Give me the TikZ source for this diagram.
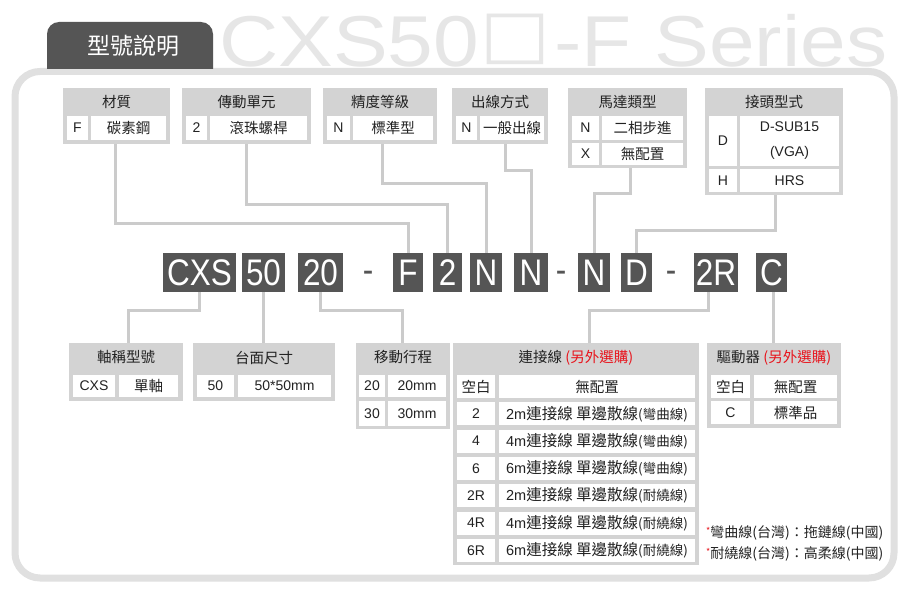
\documentclass[tikz,border=0pt]{standalone}
\usepackage{fontspec}
\setmainfont{Liberation Sans}
\newfontfamily\cjk{Noto Sans CJK TC}
\newfontfamily\djv{DejaVu Sans}
\usetikzlibrary{calc}
\definecolor{framegray}{HTML}{E0E0E0}
\definecolor{wmgray}{HTML}{E6E6E6}
\definecolor{boxgray}{HTML}{D3D3D3}
\definecolor{conngray}{HTML}{CBCBCB}
\definecolor{darkbox}{HTML}{555555}
\definecolor{redtxt}{HTML}{E8141C}
\definecolor{txt}{HTML}{222222}
\tikzset{
  gbox/.style={fill=boxgray, draw=none, inner sep=0pt},
  cellst/.style={fill=white, draw=none, inner sep=0pt, text=txt, font=\fontsize{14}{25}\selectfont, align=center},
  hdr/.style={inner sep=0pt, text=txt, font=\cjk\fontsize{14.5}{16}\selectfont},
  codebox/.style={fill=darkbox, text=white, inner sep=0pt, font=\fontsize{37}{40}\selectfont},
  dashtxt/.style={text=darkbox, inner sep=0pt, font=\fontsize{37}{40}\selectfont},
  conn/.style={draw=conngray, line width=3pt},
  wmark/.style={inner sep=0pt, text=wmgray, font=\fontsize{72}{72}\selectfont, xscale=1.14},
}
% style, name, x1, y1, x2, y2, text
\newcommand\rnode[7]{\node[#1, minimum width={(#5)-(#3)}, minimum height={(#6)-(#4)}] (#2) at ({((#3)+(#5))/2},{((#4)+(#6))/2}) {#7};}
\newcommand\cjkt[1]{{\cjk\fontsize{14.5}{16}\selectfont #1}}
\newcommand\codet[1]{\scalebox{0.85}[1]{#1}}
\newcommand\cabtxt[2]{{\fontsize{14.5}{16}\selectfont #1}{\cjk\fontsize{15.5}{16}\selectfont 連接線 單邊散線{\fontsize{13.5}{14}\selectfont(#2)}}}
\begin{document}
\begin{tikzpicture}[x=1pt,y=-1pt]
\useasboundingbox (0,0) rectangle (914,599);
\fill[white] (0,0) rectangle (914,599);
% watermark
\node[wmark, anchor=base west] (wm1) at (219,67) {CXS50};
\node[inner sep=0pt, text=wmgray, font=\djv\fontsize{66}{66}\selectfont, xscale=1.12] (wm2) at (515,39) {□};
\node[wmark, anchor=base west] (wm3) at (554,67) {-F Series};
% frame
\draw[framegray, line width=7pt, rounded corners=25pt] (15,71.5) rectangle (894,578);
% tab
\fill[darkbox] (47,69) -- (47,34) arc[start angle=180, end angle=270, radius=12] -- (201,22) arc[start angle=270, end angle=360, radius=12] -- (213,69) -- cycle;
\node[text=white, inner sep=0pt, font=\cjk\fontsize{23}{24}\selectfont] (tab) at (133,46) {型號說明};

% ---------- top boxes ----------
\rnode{gbox}{mat}{63}{88}{170}{144}{}
\node[hdr] (matH) at (116.5,102) {材質};
\rnode{cellst}{matk}{67}{116}{88}{140}{F}
\rnode{cellst}{matv}{91}{116}{166}{140}{\cjkt{碳素鋼}}

\rnode{gbox}{drv}{182}{88}{311}{144}{}
\node[hdr] (drvH) at (246.5,102) {傳動單元};
\rnode{cellst}{drvk}{186}{116}{207}{140}{2}
\rnode{cellst}{drvv}{210}{116}{307}{140}{\cjkt{滾珠螺桿}}

\rnode{gbox}{acc}{323}{88}{437}{144}{}
\node[hdr] (accH) at (380,102) {精度等級};
\rnode{cellst}{acck}{327}{116}{350}{140}{N}
\rnode{cellst}{accv}{353}{116}{433}{140}{\cjkt{標準型}}

\rnode{gbox}{outl}{452}{88}{548}{144}{}
\node[hdr] (outlH) at (500,102) {出線方式};
\rnode{cellst}{outlk}{456}{116}{477}{140}{N}
\rnode{cellst}{outlv}{480}{116}{544}{140}{\cjkt{一般出線}}

\rnode{gbox}{mot}{568}{88}{687}{168}{}
\node[hdr] (motH) at (627.5,102) {馬達類型};
\rnode{cellst}{motk1}{572}{116}{599}{140}{N}
\rnode{cellst}{motv1}{602}{116}{683}{140}{\cjkt{二相步進}}
\rnode{cellst}{motk2}{572}{143}{599}{165}{X}
\rnode{cellst}{motv2}{602}{143}{683}{165}{\cjkt{無配置}}

\rnode{gbox}{con}{705}{88}{843}{195}{}
\node[hdr] (conH) at (774,102) {接頭型式};
\rnode{cellst}{conk1}{709}{116}{737}{166}{D}
\rnode{cellst}{conv1}{740}{116}{839}{166}{D-SUB15\\(VGA)}
\rnode{cellst}{conk2}{709}{169}{737}{192}{H}
\rnode{cellst}{conv2}{740}{169}{839}{192}{HRS}

% ---------- code row ----------
\rnode{codebox}{cCXS}{163}{253}{236}{292}{\codet{CXS}}
\rnode{codebox}{c50}{242}{253}{285}{292}{\codet{50}}
\rnode{codebox}{c20}{298}{253}{343}{292}{\codet{20}}
\node[dashtxt] (d1) at (368,277) {\codet{-}};
\rnode{codebox}{cF}{393}{253}{423}{292}{\codet{F}}
\rnode{codebox}{c2}{433}{253}{462}{292}{\codet{2}}
\rnode{codebox}{cN1}{470}{253}{502}{292}{\codet{N}}
\rnode{codebox}{cN2}{514}{253}{548}{292}{\codet{N}}
\node[dashtxt] (d2) at (561,277) {\codet{-}};
\rnode{codebox}{cN3}{578}{253}{610}{292}{\codet{N}}
\rnode{codebox}{cD}{621}{253}{652}{292}{\codet{D}}
\node[dashtxt] (d3) at (671,277) {\codet{-}};
\rnode{codebox}{c2R}{694}{253}{738}{292}{\codet{2R}}
\rnode{codebox}{cC}{756}{253}{787}{292}{\codet{C}}

% ---------- bottom boxes ----------
\rnode{gbox}{axis}{69}{343}{183}{401}{}
\node[hdr] (axisH) at (126,357.5) {軸稱型號};
\rnode{cellst}{axisk}{73}{375}{115}{397}{CXS}
\rnode{cellst}{axisv}{119}{375}{178}{397}{\cjkt{單軸}}

\rnode{gbox}{tbl}{193}{343}{335}{401}{}
\node[hdr] (tblH) at (264,357.5) {台面尺寸};
\rnode{cellst}{tblk}{197}{375}{234}{397}{50}
\rnode{cellst}{tblv}{238}{375}{331}{397}{50*50mm}

\rnode{gbox}{strk}{356}{343}{450}{429}{}
\node[hdr] (strkH) at (403,357.5) {移動行程};
\rnode{cellst}{strkk1}{359}{375}{385}{397}{20}
\rnode{cellst}{strkv1}{388}{375}{446}{397}{20mm}
\rnode{cellst}{strkk2}{359}{401}{385}{426}{30}
\rnode{cellst}{strkv2}{388}{401}{446}{426}{30mm}

\rnode{gbox}{cab}{453}{343}{699}{565}{}
\node[hdr] (cabH) at (576,357.5) {連接線 \textcolor{redtxt}{(另外選購)}};
\rnode{cellst}{cabk0}{457}{375}{495}{398}{\cjkt{空白}}
\rnode{cellst}{cabv0}{499}{375}{695}{398}{\cjkt{無配置}}
\rnode{cellst}{cabk1}{457}{402.3}{495}{425.3}{2}
\rnode{cellst}{cabv1}{499}{402.3}{695}{425.3}{\cabtxt{2m}{彎曲線}}
\rnode{cellst}{cabk2}{457}{429.6}{495}{452.6}{4}
\rnode{cellst}{cabv2}{499}{429.6}{695}{452.6}{\cabtxt{4m}{彎曲線}}
\rnode{cellst}{cabk3}{457}{456.9}{495}{479.9}{6}
\rnode{cellst}{cabv3}{499}{456.9}{695}{479.9}{\cabtxt{6m}{彎曲線}}
\rnode{cellst}{cabk4}{457}{484.2}{495}{507.2}{2R}
\rnode{cellst}{cabv4}{499}{484.2}{695}{507.2}{\cabtxt{2m}{耐繞線}}
\rnode{cellst}{cabk5}{457}{511.5}{495}{534.5}{4R}
\rnode{cellst}{cabv5}{499}{511.5}{695}{534.5}{\cabtxt{4m}{耐繞線}}
\rnode{cellst}{cabk6}{457}{538.8}{495}{561.8}{6R}
\rnode{cellst}{cabv6}{499}{538.8}{695}{561.8}{\cabtxt{6m}{耐繞線}}

\rnode{gbox}{drvr}{707}{343}{841}{428}{}
\node[hdr] (drvrH) at (774,357.5) {驅動器 \textcolor{redtxt}{(另外選購)}};
\rnode{cellst}{drvrk1}{711}{375}{750}{398}{\cjkt{空白}}
\rnode{cellst}{drvrv1}{754}{375}{837}{398}{\cjkt{無配置}}
\rnode{cellst}{drvrk2}{711}{401}{750}{424}{C}
\rnode{cellst}{drvrv2}{754}{401}{837}{424}{\cjkt{標準品}}

% notes
\node[anchor=west, inner sep=0pt, text=txt, font=\cjk\fontsize{14}{15}\selectfont] (note1) at (706,533) {\textcolor{redtxt}{\raisebox{3pt}{\fontsize{9}{9}\selectfont *}}彎曲線(台灣)：拖鏈線(中國)};
\node[anchor=west, inner sep=0pt, text=txt, font=\cjk\fontsize{14}{15}\selectfont] (note2) at (706,554) {\textcolor{redtxt}{\raisebox{3pt}{\fontsize{9}{9}\selectfont *}}耐繞線(台灣)：高柔線(中國)};

% ---------- connectors (top) ----------
\draw[conn] ([xshift=-1.5pt]mat.south) -- ++(0,79) -| (cF.north);
\draw[conn] (drv.south) -- ++(0,60) -| (c2.north);
\draw[conn] ([xshift=2pt]acc.south) -- ++(0,39) -| (cN1.north);
\draw[conn] ([xshift=5pt]outl.south) -- ++(0,26) -| (cN2.north);
\draw[conn] ([xshift=2.5pt]mot.south) -- ++(0,25) -| (cN3.north);
\draw[conn] ([xshift=1pt]con.south) -- ++(0,35) -| (cD.north);
% ---------- connectors (bottom) ----------
\draw[conn] (cCXS.south) -- ++(0,18) -| ([xshift=2pt]axis.north);
\draw[conn] (c50.south) -- (c50.south |- tbl.north);
\draw[conn] (c20.south) -- ++(0,18) -| ([xshift=-1pt]strk.north);
\draw[conn] ([xshift=-8pt]c2R.south) -- ++(0,18) -| ([xshift=13pt]cab.north);
\draw[conn] ([xshift=2pt]cC.south) -- ([xshift=2pt]cC.south |- drvr.north);
\end{tikzpicture}
\end{document}
